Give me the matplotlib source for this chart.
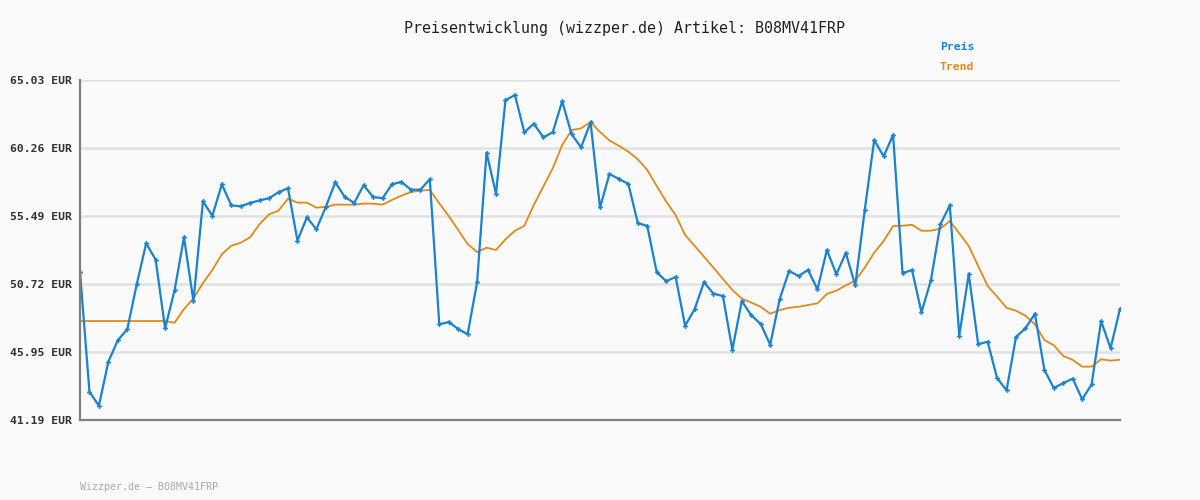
import matplotlib
matplotlib.use("Agg")
import matplotlib.pyplot as plt
import numpy as np

title = "Preisentwicklung (wizzper.de) Artikel: B08MV41FRP"
footer = "Wizzper.de – B08MV41FRP"
y_ticks = [41.19, 45.95, 50.72, 55.49, 60.26, 65.03]
y_tick_labels = ["41.19 EUR", "45.95 EUR", "50.72 EUR", "55.49 EUR", "60.26 EUR", "65.03 EUR"]

price = [51.59, 43.17, 42.19, 45.28, 46.78, 47.55, 50.70, 53.58, 52.43, 47.62,
         50.28, 54.00, 49.51, 56.52, 55.51, 57.72, 56.24, 56.17, 56.41, 56.59,
         56.74, 57.16, 57.44, 53.76, 55.40, 54.56, 56.13, 57.86, 56.83, 56.41,
         57.65, 56.83, 56.74, 57.72, 57.88, 57.34, 57.34, 58.07, 47.90, 48.06,
         47.57, 47.20, 50.85, 59.93, 57.06, 63.61, 63.98, 61.36, 61.97, 61.01,
         61.36, 63.54, 61.22, 60.31, 62.06, 56.09, 58.44, 58.09, 57.74, 55.00,
         54.79, 51.55, 50.92, 51.22, 47.80, 48.95, 50.85, 50.05, 49.88, 46.12,
         49.53, 48.53, 47.92, 46.47, 49.65, 51.64, 51.29, 51.71, 50.35, 53.11,
         51.41, 52.90, 50.63, 55.91, 60.81, 59.68, 61.17, 51.48, 51.71, 48.74,
         50.99, 54.91, 56.24, 47.10, 51.43, 46.50, 46.68, 44.13, 43.27, 47.01,
         47.62, 48.64, 44.70, 43.43, 43.78, 44.09, 42.64, 43.69, 48.13, 46.22,
         48.97]

trend = [48.13, 48.13, 48.13, 48.13, 48.13, 48.13, 48.13, 48.13, 48.13, 48.13,
         48.01, 48.97, 49.72, 50.78, 51.71, 52.81, 53.41, 53.62, 54.00, 54.93,
         55.61, 55.87, 56.71, 56.43, 56.43, 56.08, 56.13, 56.29, 56.29, 56.29,
         56.36, 56.36, 56.29, 56.62, 56.92, 57.18, 57.27, 57.32, 56.38, 55.49,
         54.51, 53.53, 52.97, 53.27, 53.11, 53.86, 54.46, 54.81, 56.27, 57.55,
         58.84, 60.47, 61.52, 61.64, 62.09, 61.38, 60.79, 60.42, 60.00, 59.47,
         58.72, 57.60, 56.50, 55.56, 54.16, 53.41, 52.64, 51.87, 51.08, 50.31,
         49.70, 49.42, 49.13, 48.64, 48.90, 49.06, 49.13, 49.25, 49.37, 50.03,
         50.26, 50.63, 50.96, 51.87, 52.92, 53.74, 54.79, 54.81, 54.88, 54.46,
         54.46, 54.60, 55.14, 54.28, 53.39, 51.99, 50.59, 49.84, 49.06, 48.85,
         48.50, 47.90, 46.80, 46.43, 45.68, 45.40, 44.93, 44.93, 45.45, 45.35,
         45.42]

bg = "#fafafa"
blue = "#1a82d0"
orange = "#e08a1c"
mono = "DejaVu Sans Mono"

fig = plt.figure(figsize=(12, 5), dpi=100, facecolor=bg)
ax = fig.add_axes([80/1200, 80/500, 1040/1200, 340/500], facecolor=bg)

x = np.arange(len(price))
ax.plot(x, trend, color=orange, lw=1.3, zorder=3)
ax.plot(x, price, color=blue, lw=1.6, marker="P", markersize=3.5,
        markeredgewidth=0, zorder=4)

ax.set_xlim(0, len(price) - 1)
ax.set_ylim(y_ticks[0], y_ticks[-1])
ax.set_yticks(y_ticks)
ax.set_yticklabels(y_tick_labels, family=mono, fontsize=8.2,
                   fontweight="bold", color="#333333")
ax.set_xticks([])
ax.tick_params(axis="y", length=0, pad=6)
ax.grid(axis="y", color="#e2e2e2", lw=1.8, zorder=0)
for s in ["top", "right"]:
    ax.spines[s].set_visible(False)
for s in ["left", "bottom"]:
    ax.spines[s].set_color("#808080")
    ax.spines[s].set_linewidth(1.6)
ax.spines["left"].set_zorder(5)

fig.text(624/1200, 1 - 28/500, title, ha="center", va="center", family=mono,
         fontsize=10.8, fontweight="medium", color="#222222")
fig.text(957/1200, 1 - 47/500, "Preis", ha="center", va="center", family=mono,
         fontsize=8.2, fontweight="bold", color=blue)
fig.text(957/1200, 1 - 67/500, "Trend", ha="center", va="center", family=mono,
         fontsize=8.2, fontweight="bold", color=orange)
fig.text(80/1200, 1 - 487/500, footer, ha="left", va="center", family=mono,
         fontsize=7.2, color="#aaaaaa")

fig.savefig("out.png", dpi=100, facecolor=bg)
